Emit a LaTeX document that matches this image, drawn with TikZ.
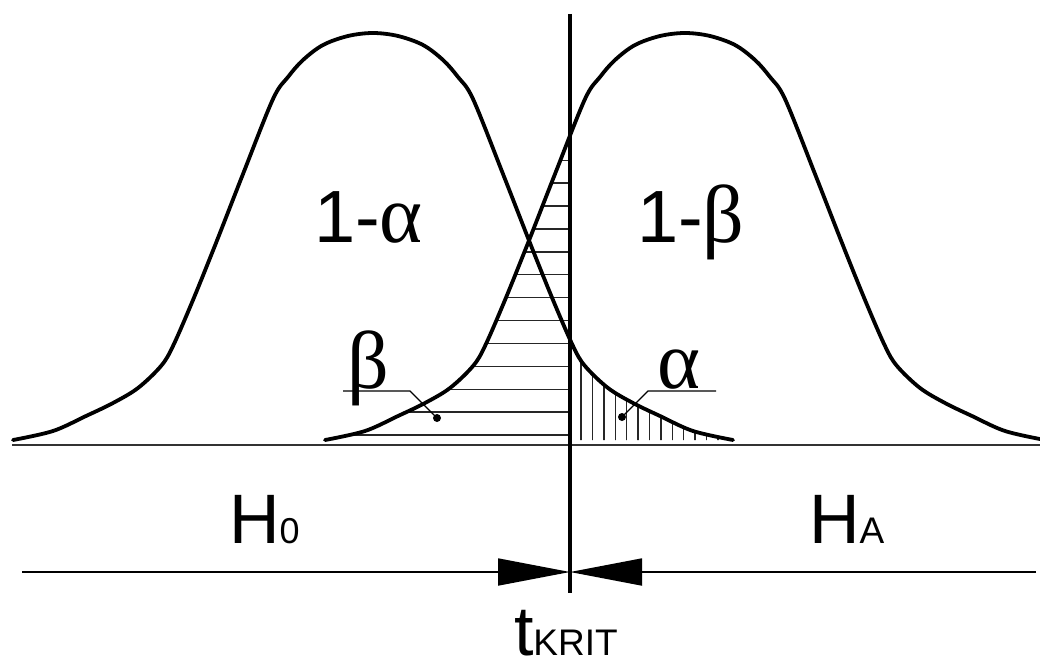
\documentclass[tikz,border=0pt]{standalone}
\usepackage{fontspec}
\setmainfont{Liberation Sans}
\newfontfamily\grkfont{Liberation Serif}
\newcommand{\grk}{\fontsize{82}{82}\selectfont\grkfont}
\usetikzlibrary{arrows.meta}
\begin{document}
\begin{tikzpicture}[x=1pt,y=-1pt,
  bellpath/.style={insert path={plot[smooth,tension=0.55] coordinates {(-360,440) (-320,431) (-287,416) (-260,403) (-235,388) (-212,366) (-200,346) (-180,300) (-157,243) (-130,174) (-100,99) (-85,77) (-70,60) (-50,45) (-25,36) (0,33) (25,36) (50,45) (70,60) (85,77) (100,99) (130,174) (157,243) (180,300) (200,346) (212,366) (235,388) (260,403) (287,416) (320,431) (360,440)}}},
  curve/.style={line width=3.8pt, line join=round, line cap=round},
  hatch/.style={line width=1.4pt, black!85},
  axis/.style={line width=1.8pt, black!80},
  dimline/.style={line width=1.8pt, -{Triangle[length=72pt,width=27pt]}},
  leader/.style={line width=1.3pt},
  big/.style={anchor=base west, inner sep=0pt, outer sep=0pt, font=\fontsize{74}{74}\selectfont},
  hlab/.style={anchor=base west, inner sep=0pt, outer sep=0pt, font=\fontsize{70}{70}\selectfont}]
\useasboundingbox (0,0) rectangle (1040,666);
% hatching beta
\begin{scope}
  \clip (300,0) rectangle (570,444);
  \clip[shift={(685,0)}, bellpath] -- cycle;
  \foreach \k in {0,...,12} \draw[hatch] (300,{435-22.9*\k}) -- (570,{435-22.9*\k});
\end{scope}
% hatching alpha
\begin{scope}
  \clip (570,0) rectangle (760,444);
  \clip[shift={(373,0)}, bellpath] -- cycle;
  \foreach \k in {0,...,14} \draw[hatch] ({581+11.4*\k},444) -- ({581+11.4*\k},300);
\end{scope}
% baseline
\coordinate (bl) at (12,445);
\coordinate (br) at (1040,445);
\draw[axis] (bl) -- (br);
% curves
\draw[curve, shift={(373,0)}, bellpath];
\draw[curve, shift={(685,0)}, bellpath];
% critical line
\coordinate (vt) at (570,14);
\coordinate (vb) at (570,593);
\draw[line width=4.5pt] (vt) -- (vb);
% dimension line
\coordinate (dl) at (22,572);
\coordinate (dr) at (1036,572);
\coordinate (dc) at (570,572);
\draw[dimline] (dl) -- (dc);
\draw[dimline] (dr) -- (dc);
% labels
\node[big] (oneminusalpha) at (314,242) {1-{\grk α}};
\node[big] (oneminusbeta) at (637,242) {1-{\grk β}};
\node[big] (beta) at (347,388) {\grk β};
\node[big] (alpha) at (657,388) {\grk α};
\node[hlab] (hnull) at (229,543) {H{\fontsize{36}{36}\selectfont 0}};
\node[hlab] (halt) at (809,543) {H{\fontsize{37}{37}\selectfont A}};
\node[hlab] (tkrit) at (514,655) {t{\fontsize{37}{37}\selectfont KRIT}};
% leaders
\coordinate (b1) at (343,391);
\coordinate (b2) at (410,391);
\coordinate (bd) at (437,418);
\draw[leader] (b1) -- (b2) -- (bd);
\fill (bd) circle (4pt);
\coordinate (a1) at (716,391);
\coordinate (a2) at (648,391);
\coordinate (ad) at (622,417);
\draw[leader] (a1) -- (a2) -- (ad);
\fill (ad) circle (4pt);
\end{tikzpicture}
\end{document}
